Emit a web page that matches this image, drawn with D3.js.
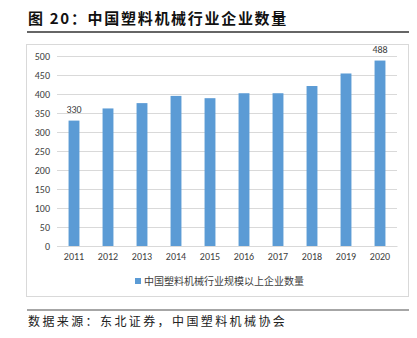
<!DOCTYPE html>
<html><head><meta charset="utf-8">
<script src="https://cdn.jsdelivr.net/npm/d3@7"></script>
<style>body{margin:0;background:#fff}svg{display:block}</style>
</head><body><svg id="c" width="417" height="338"></svg>
<script>
const categories = ["2011","2012","2013","2014","2015","2016","2017","2018","2019","2020"];
const values = [330,362,376,395,389,402,402,421,454,488];
const yTicks = [0,50,100,150,200,250,300,350,400,450,500];
const labelled = ["2011","2020"];
const seriesName = "中国塑料机械行业规模以上企业数量";
const titleText = "图 20：中国塑料机械行业企业数量";
const sourceText = "数据来源：东北证券，中国塑料机械协会";

const svg = d3.select("#c");
const cjk = "'Noto Sans CJK SC', 'Noto Sans', sans-serif";
const lat = "Calibri, Carlito, 'Liberation Sans', 'DejaVu Sans', sans-serif";

// title
svg.append("text").attr("x",28).attr("y",24).attr("font-family",cjk).attr("font-weight","bold")
  .attr("font-size",15).attr("letter-spacing",1.7).attr("fill","#111").text(titleText);
svg.append("line").attr("x1",27).attr("x2",409).attr("y1",32).attr("y2",32).attr("stroke","#333").attr("stroke-width",1.5);

// chart frame
svg.append("rect").attr("x",26.5).attr("y",44.5).attr("width",382).attr("height",252)
  .attr("fill","#fff").attr("stroke","#d9d9d9");

const x = d3.scaleBand().domain(categories).range([57,397]).paddingInner(0.68).paddingOuter(0.34);
const y = d3.scaleLinear().domain([0,500]).range([246,56]);

const g = svg.append("g");
g.selectAll("line.grid").data(yTicks).join("line").attr("class","grid")
  .attr("x1",57).attr("x2",397).attr("y1",d=>Math.round(y(d))+0.5).attr("y2",d=>Math.round(y(d))+0.5)
  .attr("stroke","#d9d9d9").attr("stroke-width",1);

const yAxis = d3.axisLeft(y).tickValues(yTicks).tickSize(0).tickPadding(0);
const ya = svg.append("g").attr("transform","translate(50,0)").call(yAxis);
ya.select(".domain").remove();
ya.selectAll("text").attr("font-family",lat).attr("font-size",10).attr("fill","#404040");

g.selectAll("rect.bar").data(values).join("rect").attr("class","bar")
  .attr("x",(d,i)=>x(categories[i])).attr("width",x.bandwidth())
  .attr("y",d=>y(d)).attr("height",d=>y(0)-y(d)).attr("fill","#5b9bd5");

const xAxis = d3.axisBottom(x).tickSize(0).tickPadding(7);
const xa = svg.append("g").attr("transform","translate(0,246)").call(xAxis);
xa.select(".domain").attr("stroke","#d9d9d9");
xa.selectAll("text").attr("font-family",lat).attr("font-size",10).attr("fill","#404040");

g.selectAll("text.lbl").data(values.map((v,i)=>({v,c:categories[i]})).filter(d=>labelled.includes(d.c)))
  .join("text").attr("class","lbl").attr("x",d=>x(d.c)+x.bandwidth()/2).attr("y",d=>y(d.v)-8)
  .attr("text-anchor","middle").attr("font-family",lat).attr("font-size",10).attr("fill","#404040").text(d=>d.v);

// legend
svg.append("rect").attr("x",135).attr("y",278).attr("width",6).attr("height",6).attr("fill","#5b9bd5");
svg.append("text").attr("x",144).attr("y",284.5).attr("font-family",cjk).attr("font-size",10)
  .attr("fill","#404040").text(seriesName);

// source
svg.append("line").attr("x1",27).attr("x2",409).attr("y1",310).attr("y2",310).attr("stroke","#888").attr("stroke-width",1.5);
svg.append("text").attr("x",28).attr("y",326).attr("font-family",cjk).attr("font-size",12)
  .attr("letter-spacing",2.4).attr("fill","#222").text(sourceText);
</script></body></html>
